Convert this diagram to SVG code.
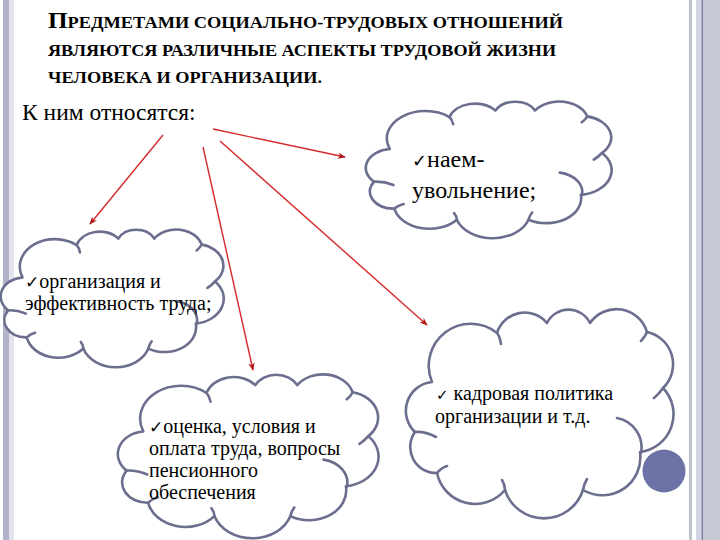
<svg xmlns="http://www.w3.org/2000/svg" width="720" height="540" viewBox="0 0 720 540">
<defs>
<style>
.cloud{fill:#fff;stroke:#6b6e8e;stroke-width:2.6;stroke-linejoin:round;vector-effect:non-scaling-stroke}
.crease{fill:none;stroke:#6b6e8e;stroke-width:2.6;stroke-linecap:round;vector-effect:non-scaling-stroke}
.conn{stroke:#d62a2a;stroke-width:1.4;fill:none}
</style>
<marker id="ah" viewBox="0 0 10 10" refX="9" refY="5" markerWidth="8" markerHeight="8" orient="auto" markerUnits="userSpaceOnUse">
<path d="M0,1 L10,5 L0,9 L3,5 Z" fill="#b01818"/>
</marker>
</defs>

<g id="page">
<rect width="720" height="540" fill="#fff"/>
<rect x="3" y="0" width="6" height="540" fill="#b2b3ca"/>
<rect x="9" y="0" width="5" height="540" fill="#e2e3ec"/>
<rect x="689" y="0" width="3" height="540" fill="#bcc2ca"/>
<rect x="696" y="0" width="6" height="540" fill="#d4d5e6"/>
<rect x="701.7" y="0" width="1.2" height="540" fill="#6e6f96"/>
<rect x="703" y="0" width="17" height="540" fill="#c5c8d5"/>
</g>

<g id="title">
<text x="48" y="28" font-family="Liberation Serif" font-weight="bold" font-size="17.5" textLength="515" lengthAdjust="spacingAndGlyphs"><tspan font-size="24">П</tspan>РЕДМЕТАМИ СОЦИАЛЬНО-ТРУДОВЫХ ОТНОШЕНИЙ</text>
<text x="48" y="56" font-family="Liberation Serif" font-weight="bold" font-size="17.5" textLength="508" lengthAdjust="spacingAndGlyphs">ЯВЛЯЮТСЯ РАЗЛИЧНЫЕ АСПЕКТЫ ТРУДОВОЙ ЖИЗНИ</text>
<text x="48" y="83" font-family="Liberation Serif" font-weight="bold" font-size="17.5" textLength="274" lengthAdjust="spacingAndGlyphs">ЧЕЛОВЕКА И ОРГАНИЗАЦИИ.</text>
</g>

<g id="source">
<text x="22" y="120" font-family="Liberation Serif" font-size="23.5">К ним относятся:</text>
</g>

<g id="connectors">
<line class="conn" x1="163" y1="135" x2="90" y2="224" marker-end="url(#ah)"/>
<line class="conn" x1="203" y1="147" x2="253" y2="370" marker-end="url(#ah)"/>
<line class="conn" x1="213" y1="129" x2="345" y2="157" marker-end="url(#ah)"/>
<line class="conn" x1="220" y1="141" x2="427" y2="325" marker-end="url(#ah)"/>
</g>

<g id="node-hiring">
<g transform="translate(365,102) scale(0.9185,0.6538)">
<path class="cloud" d="M10,122 A29,29 0 0 1 27,72 A42,42 0 0 1 92,23 A29,29 0 0 1 142,13 A24,24 0 0 1 185,13 A32,32 0 0 1 242,22 A33,33 0 0 1 258,78 A38,38 0 0 1 235,142 A38,38 0 0 1 178,180 A41,41 0 0 1 100,180 A39,39 0 0 1 32,163 A26,26 0 0 1 10,122 Z"/>
<path class="crease" d="M9,122 Q20,121 31,127 M92,23 Q95,27 96,34 M242,22 Q240,27 236,31 M258,78 Q254,84 249,88 M212,108 A30,30 0 0 1 236,143 M178,180 Q179,174 182,169 M100,180 Q100,175 97,170 M32,163 Q36,158 42,156"/>
</g>
<text x="412" y="167" font-family="Liberation Serif" font-size="24"><tspan font-family="DejaVu Sans" font-size="18">✓</tspan>наем-</text>
<text x="412" y="198" font-family="Liberation Serif" font-size="24">увольнение;</text>
</g>

<g id="node-organization">
<g transform="translate(0,230) scale(0.8333,0.6587)">
<path class="cloud" d="M10,122 A29,29 0 0 1 27,72 A42,42 0 0 1 92,23 A29,29 0 0 1 142,13 A24,24 0 0 1 185,13 A32,32 0 0 1 242,22 A33,33 0 0 1 258,78 A38,38 0 0 1 235,142 A38,38 0 0 1 178,180 A41,41 0 0 1 100,180 A39,39 0 0 1 32,163 A26,26 0 0 1 10,122 Z"/>
<path class="crease" d="M9,122 Q20,121 31,127 M92,23 Q95,27 96,34 M242,22 Q240,27 236,31 M258,78 Q254,84 249,88 M212,108 A30,30 0 0 1 236,143 M178,180 Q179,174 182,169 M100,180 Q100,175 97,170 M32,163 Q36,158 42,156"/>
</g>
<text x="25" y="288" font-family="Liberation Serif" font-size="20"><tspan font-family="DejaVu Sans" font-size="17">✓</tspan>организация и</text>
<text x="25" y="310" font-family="Liberation Serif" font-size="20">эффективность труда;</text>
</g>

<g id="node-payment">
<g transform="translate(117,375) scale(0.974,0.7837)">
<path class="cloud" d="M10,122 A29,29 0 0 1 27,72 A42,42 0 0 1 92,23 A29,29 0 0 1 142,13 A24,24 0 0 1 185,13 A32,32 0 0 1 242,22 A33,33 0 0 1 258,78 A38,38 0 0 1 235,142 A38,38 0 0 1 178,180 A41,41 0 0 1 100,180 A39,39 0 0 1 32,163 A26,26 0 0 1 10,122 Z"/>
<path class="crease" d="M9,122 Q20,121 31,127 M92,23 Q95,27 96,34 M242,22 Q240,27 236,31 M258,78 Q254,84 249,88 M212,108 A30,30 0 0 1 236,143 M178,180 Q179,174 182,169 M100,180 Q100,175 97,170 M32,163 Q36,158 42,156"/>
</g>
<text x="149" y="433" font-family="Liberation Serif" font-size="20"><tspan font-family="DejaVu Sans" font-size="17">✓</tspan>оценка, условия и</text>
<text x="149" y="455" font-family="Liberation Serif" font-size="20">оплата труда, вопросы</text>
<text x="149" y="477" font-family="Liberation Serif" font-size="20">пенсионного</text>
<text x="149" y="499" font-family="Liberation Serif" font-size="20">обеспечения</text>
</g>

<g id="node-policy">
<g transform="translate(405,310)">
<path class="cloud" d="M10,122 A29,29 0 0 1 27,72 A42,42 0 0 1 92,23 A29,29 0 0 1 142,13 A24,24 0 0 1 185,13 A32,32 0 0 1 242,22 A33,33 0 0 1 258,78 A38,38 0 0 1 235,142 A38,38 0 0 1 178,180 A41,41 0 0 1 100,180 A39,39 0 0 1 32,163 A26,26 0 0 1 10,122 Z"/>
<path class="crease" d="M9,122 Q20,121 31,127 M92,23 Q95,27 96,34 M242,22 Q240,27 236,31 M258,78 Q254,84 249,88 M212,108 A30,30 0 0 1 236,143 M178,180 Q179,174 182,169 M100,180 Q100,175 97,170 M32,163 Q36,158 42,156"/>
</g>
<text x="436" y="400" font-family="Liberation Serif" font-size="20"><tspan font-family="DejaVu Sans" font-size="15">✓</tspan> кадровая политика</text>
<text x="435" y="423" font-family="Liberation Serif" font-size="20">организации и т.д.</text>
</g>

<g id="deco">
<circle cx="664" cy="471" r="21.5" fill="#6b73a6"/>
</g>
</svg>
